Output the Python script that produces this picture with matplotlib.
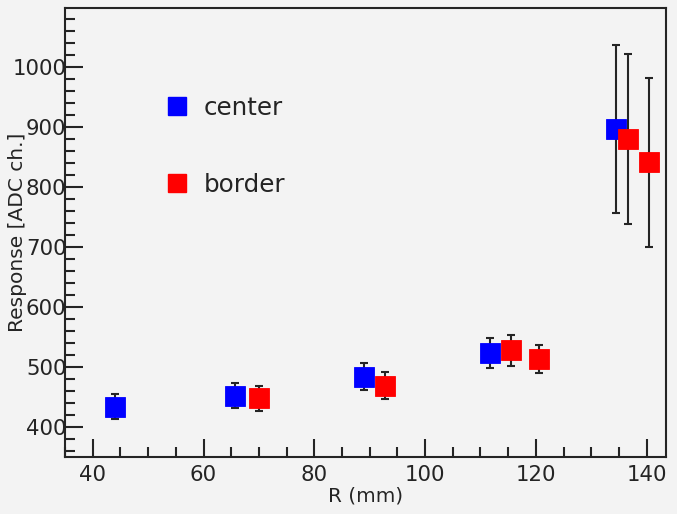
import matplotlib
matplotlib.use("Agg")
import matplotlib.pyplot as plt
from matplotlib.ticker import MultipleLocator
from matplotlib.lines import Line2D

# Detector response vs radius
r_center = [44.1, 65.7, 89.0, 111.8, 134.4]
resp_center = [434, 452, 484, 524, 897]
err_center = [21, 21, 22, 25, 140]

r_border = [70.0, 92.8, 115.5, 120.5, 136.7, 140.5]
resp_border = [448, 469, 528, 513, 880, 841]
err_border = [21, 22, 26, 23, 141, 141]

x_label = "R (mm)"
y_label = "Response [ADC ch.]"
series_names = ["center", "border"]

bg = "#f3f3f3"
ink = "#242424"
blue = "#0000ff"
red = "#ff0000"

fig = plt.figure(figsize=(6.77, 5.14), dpi=100, facecolor=bg)
ax = fig.add_axes([0.0953, 0.1109, 0.8885, 0.8745], facecolor=bg)

ms = 13.7
for xs, ys, es, col in [(r_center, resp_center, err_center, blue),
                        (r_border, resp_border, err_border, red)]:
    ax.errorbar(xs, ys, yerr=es, fmt="none", ecolor=ink, elinewidth=1.5,
                capsize=2.6, capthick=1.5, zorder=2)
    ax.plot(xs, ys, linestyle="none", marker="s", markersize=ms,
            markerfacecolor=col, markeredgecolor=col, markeredgewidth=0.6,
            zorder=3)

ax.set_xlim(34.9, 143.5)
ax.set_ylim(350, 1099)

ax.xaxis.set_major_locator(MultipleLocator(20))
ax.xaxis.set_minor_locator(MultipleLocator(5))
ax.yaxis.set_major_locator(MultipleLocator(100))
ax.yaxis.set_minor_locator(MultipleLocator(20))

ax.tick_params(axis="both", which="both", direction="in", colors=ink,
               top=False, right=False, width=1.5)
ax.tick_params(axis="both", which="major", length=12.8, labelsize=15.3)
ax.tick_params(axis="both", which="minor", length=7)
ax.tick_params(axis="y", which="major", pad=-1.5)
ax.tick_params(axis="x", which="major", pad=6)

for sp in ax.spines.values():
    sp.set_linewidth(1.5)
    sp.set_color(ink)

ax.set_xlabel(x_label, fontsize=14.4, color=ink, labelpad=1)
ax.set_ylabel(y_label, fontsize=14.5, color=ink, labelpad=-10.5)

handles = [Line2D([], [], linestyle="none", marker="s", markersize=ms * 0.95,
                  markerfacecolor=c, markeredgecolor=c)
           for c in (blue, red)]
leg = ax.legend(handles, series_names, loc="upper left",
                bbox_to_anchor=(0.170, 0.803), frameon=False, fontsize=17.7,
                labelspacing=2.15, handlelength=0.8, handletextpad=0.7,
                borderpad=0, borderaxespad=0)
for t in leg.get_texts():
    t.set_color(ink)

fig.savefig("out.png", dpi=100, facecolor=bg)
